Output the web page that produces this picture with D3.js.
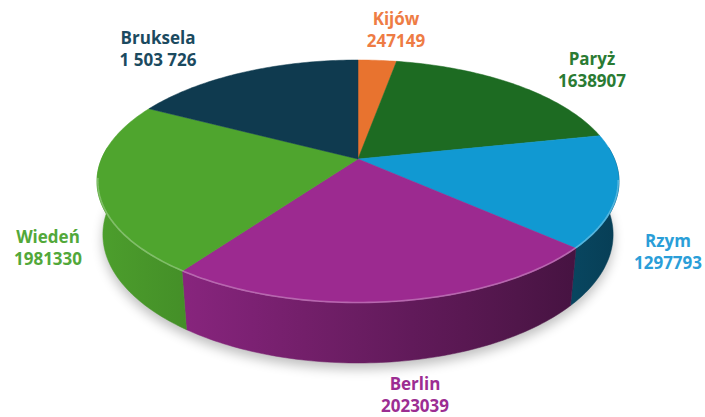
<!DOCTYPE html>
<html>
<head>
<meta charset="utf-8">
<script src="https://cdn.jsdelivr.net/npm/d3@7"></script>
<style>
  html, body { margin: 0; padding: 0; background: #ffffff; }
  svg { display: block; }
</style>
</head>
<body>
<svg id="chart" width="705" height="417"></svg>
<script>
// ---- data ----
const categories = ["Kijów", "Paryż", "Rzym", "Berlin", "Wiedeń", "Bruksela"];
const values = [247149, 1638907, 1297793, 2023039, 1981330, 1503726];
const valueLabels = ["247149", "1638907", "1297793", "2023039", "1981330", "1 503 726"];

// ---- styles ----
const sliceColors = ["#e8732f", "#1d6b22", "#1199d2", "#9c2a90", "#4fa52e", "#0f3a4f"];
const labelColors = ["#ee7c44", "#2a7b33", "#2a9ed8", "#9c2d92", "#52a83a", "#1b4a5f"];
// label layout (centre x, first baseline y)
const labelLayout = [[396, 25], [592, 65], [668, 247], [415, 390], [48, 243], [158, 44]];

// ---- 3D projection ----
const cx = 358, cy = 159;
const D = 4.8, F = 1231.2, cosP = 0.889, sinP = 0.4575, H = 0.2343;
function proj(theta, rho, level) {
  const x = rho * Math.sin(theta), z = rho * Math.cos(theta), yw = level;
  const depth = D - yw * sinP + z * cosP;
  const up = yw * cosP + z * sinP;
  return [cx + F * x / depth, cy - F * up / depth];
}

const svg = d3.select("#chart");
const defs = svg.append("defs");
defs.append("filter").attr("id", "blur").attr("x", "-20%").attr("y", "-20%").attr("width", "140%").attr("height", "140%")
  .append("feGaussianBlur").attr("stdDeviation", 6);

const pie = d3.pie().sort(null).value(d => d).startAngle(0).endAngle(2 * Math.PI);
const arcs = pie(values);
const line = d3.line();

// wall shading gradients (light from the left)
const xLeft = proj(-Math.PI / 2, 1, 0)[0] - 10, xRight = proj(Math.PI / 2, 1, 0)[0] + 10;
const shade = d3.scaleLinear().domain([xLeft, cx, xRight]).range([0.97, 0.68, 0.40]);
sliceColors.forEach((col, i) => {
  const g = defs.append("linearGradient").attr("id", "wall" + i)
    .attr("gradientUnits", "userSpaceOnUse").attr("x1", xLeft).attr("x2", xRight).attr("y1", 0).attr("y2", 0);
  d3.range(0, 11).forEach(s => {
    const x = xLeft + (xRight - xLeft) * s / 10;
    const c = d3.rgb(col), f = shade(x);
    g.append("stop").attr("offset", (s * 10) + "%").attr("stop-color", d3.rgb(c.r * f, c.g * f, c.b * f).toString());
  });
});

// shadow
const full = d3.range(0, 361, 2).map(a => a * Math.PI / 180);
const shadowPts = full.map(t => { const p = proj(t, 1.0, -H); return [p[0], p[1] + 6]; });
svg.append("path").attr("d", line(shadowPts) + "Z")
  .attr("fill", "#000").attr("opacity", 0.25).attr("filter", "url(#blur)");

// walls (front-facing part of each slice's outer side)
const lim = Math.acos(0.1);
const walls = [];
arcs.forEach((a, i) => {
  let s = Math.max(a.startAngle, lim), e = Math.min(a.endAngle, 2 * Math.PI - lim);
  if (e <= s) return;
  const n = Math.max(2, Math.ceil((e - s) / (Math.PI / 180)));
  const ts = d3.range(n + 1).map(j => s + j * (e - s) / n);
  const pts = ts.map(t => proj(t, 1, 0)).concat(ts.slice().reverse().map(t => proj(t, 1, -H)));
  walls.push({ i, d: line(pts) + "Z" });
});
svg.append("g").selectAll("path").data(walls).join("path")
  .attr("d", w => w.d)
  .attr("fill", w => `url(#wall${w.i})`)
  .attr("stroke", w => `url(#wall${w.i})`)
  .attr("stroke-width", 0.5);

// top faces
svg.append("g").selectAll("path").data(arcs).join("path")
  .attr("d", a => {
    const n = Math.max(2, Math.ceil((a.endAngle - a.startAngle) / (Math.PI / 180)));
    const pts = [[cx, cy]].concat(d3.range(n + 1).map(j => proj(a.startAngle + j * (a.endAngle - a.startAngle) / n, 1, 0)));
    return line(pts) + "Z";
  })
  .attr("fill", (a, i) => sliceColors[i])
  .attr("stroke", (a, i) => sliceColors[i])
  .attr("stroke-width", 0.5);

// rim highlight
const rim = d3.range(100, 262, 1).map(a => proj(a * Math.PI / 180, 0.997, 0));
svg.append("path").attr("d", line(rim)).attr("fill", "none")
  .attr("stroke", "#ffffff").attr("stroke-opacity", 0.28).attr("stroke-width", 1.6);

// labels
const lg = svg.append("g").attr("font-family", "'Open Sans', sans-serif").attr("font-weight", 700)
  .attr("font-size", 17).attr("text-anchor", "middle");
categories.forEach((c, i) => {
  const [x, y] = labelLayout[i];
  const t = lg.append("text").attr("fill", labelColors[i]);
  t.append("tspan").attr("x", x).attr("y", y).text(c);
  t.append("tspan").attr("x", x).attr("y", y + 22).text(valueLabels[i]);
});
</script>
</body>
</html>
